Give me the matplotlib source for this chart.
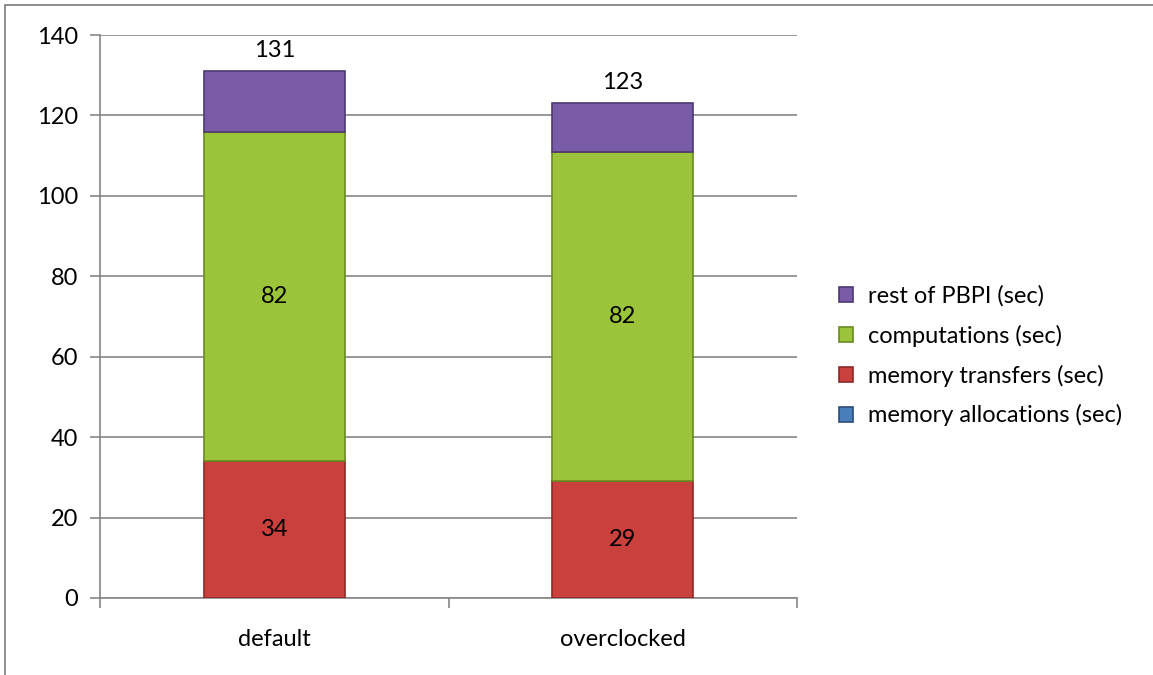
import matplotlib.pyplot as plt
from matplotlib.patches import Rectangle
import numpy as np

plt.rcParams['font.family'] = ['Lato', 'DejaVu Sans']

categories = ['default', 'overclocked']
series_names = ['memory allocations (sec)', 'memory transfers (sec)',
                'computations (sec)', 'rest of PBPI (sec)']
mem_alloc = [0, 0]
mem_transfer = [34, 29]
computations = [82, 82]
rest = [15, 12]
totals = [131, 123]

colors = ['#4A7EBB', '#C9403C', '#9CC43A', '#7A5BA8']
edges = ['#2C4D75', '#8C2A28', '#6A8A22', '#4E3A70']

fig = plt.figure(figsize=(11.53, 6.75), dpi=100)
ax = fig.add_axes([100 / 1153, 1 - 598 / 675, 697 / 1153, 563 / 675])

# outer chart frame
fig.patches.append(Rectangle((5 / 1153, -0.1), 1.2, 1 - 5 / 675 + 0.1,
                             transform=fig.transFigure, fill=False,
                             edgecolor='#868686', linewidth=1.3, zorder=0))

x = np.arange(len(categories))
width = 0.405
bottom = np.zeros(len(categories))
layers = [mem_alloc, mem_transfer, computations, rest]
for name, vals, c, ec in zip(series_names, layers, colors, edges):
    vals = np.array(vals, dtype=float)
    ax.bar(x, vals, width, bottom=bottom, color=c, edgecolor=ec,
           linewidth=1.2, label=name, zorder=3)
    bottom += vals

fs = 17
for i in range(len(categories)):
    ax.text(x[i], mem_transfer[i] / 2, str(mem_transfer[i]), ha='center',
            va='center', fontsize=fs, zorder=5)
    ax.text(x[i], mem_transfer[i] + computations[i] / 2, str(computations[i]),
            ha='center', va='center', fontsize=fs, zorder=5)
    ax.annotate(str(totals[i]), (x[i], totals[i]), xytext=(0, 15),
                textcoords='offset points', ha='center', va='center',
                fontsize=fs, zorder=5)

ax.set_xlim(-0.5, 1.5)
ax.set_ylim(0, 140)
ax.set_yticks(range(0, 141, 20))
ax.set_xticks(x)
ax.set_xticklabels(categories, fontsize=fs)
ax.set_xticks([-0.5, 0.5, 1.5], minor=True)
ax.tick_params(axis='x', which='major', length=0, pad=22)
ax.tick_params(axis='x', which='minor', length=7, color='#868686', width=1.2)
ax.tick_params(axis='y', length=7, color='#868686', width=1.2, labelsize=fs, pad=9)
ax.yaxis.grid(True, color='#868686', linewidth=1.2, zorder=0)
ax.set_axisbelow(True)
for s in ['top', 'right']:
    ax.spines[s].set_visible(False)
for s in ['left', 'bottom']:
    ax.spines[s].set_color('#868686')
    ax.spines[s].set_linewidth(1.2)

handles, labels = ax.get_legend_handles_labels()
leg = fig.legend(handles[::-1], labels[::-1], loc='center left',
                 bbox_to_anchor=(818 / 1153, 1 - 356 / 675), frameon=False,
                 fontsize=fs, handlelength=0.6, handleheight=0.6,
                 handletextpad=0.6, labelspacing=0.75)

fig.savefig('out.png', dpi=100)
